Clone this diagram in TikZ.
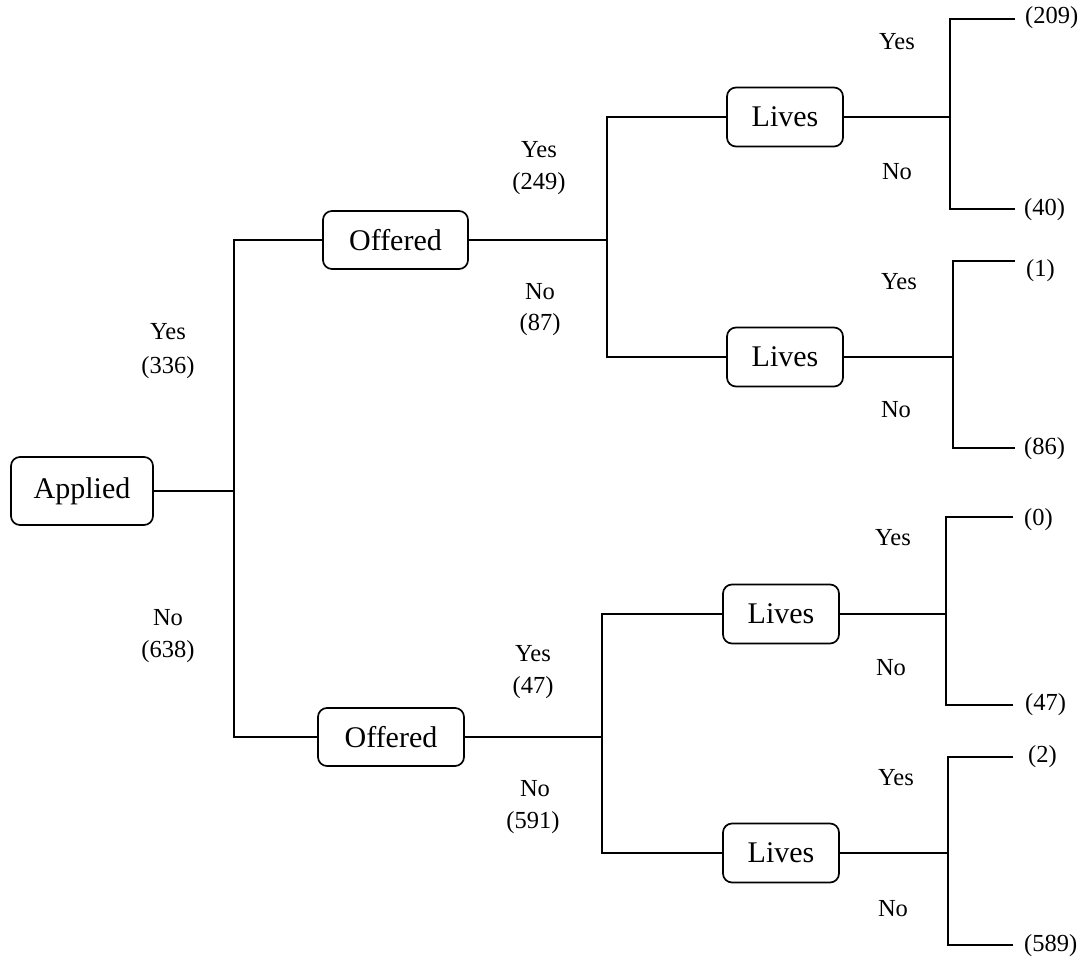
\documentclass[tikz,border=0pt]{standalone}
\usepackage{fontspec}
\setmainfont{Liberation Serif}
\begin{document}
\begin{tikzpicture}[x=1pt,y=-1pt,
  box/.style={draw,line width=1.7pt,rounded corners=9pt,font=\fontsize{30}{32}\selectfont,inner sep=0pt},
  lbl/.style={font=\fontsize{24.5}{26}\selectfont,inner sep=0pt},
  leaf/.style={font=\fontsize{24.5}{26}\selectfont,inner sep=0pt,anchor=west},
  wire/.style={line width=1.7pt}]
\useasboundingbox (0,0) rectangle (1083,957);
% boxes
\node[box,minimum width=142pt,minimum height=68pt] (app) at (82,491) {Applied};
\node[box,minimum width=145pt,minimum height=58pt] (off1) at (395.5,240) {Offered};
\node[box,minimum width=146pt,minimum height=58pt] (off2) at (391,737) {Offered};
\node[box,minimum width=116pt,minimum height=59pt] (l1) at (785,117) {Lives};
\node[box,minimum width=116pt,minimum height=59pt] (l2) at (785,357) {Lives};
\node[box,minimum width=116pt,minimum height=59pt] (l3) at (781,614) {Lives};
\node[box,minimum width=116pt,minimum height=59pt] (l4) at (781,853) {Lives};
% junctions
\coordinate (j0) at (234,491);
\coordinate (j1) at (607,240);
\coordinate (j2) at (602,737);
\coordinate (k1) at (950,117);
\coordinate (k2) at (953,357);
\coordinate (k3) at (946,614);
\coordinate (k4) at (948,853);
% leaf line ends
\coordinate (e1) at (1015,19);
\coordinate (e2) at (1015,209);
\coordinate (e3) at (1015,261);
\coordinate (e4) at (1015,448);
\coordinate (e5) at (1013,517);
\coordinate (e6) at (1013,705);
\coordinate (e7) at (1013,757);
\coordinate (e8) at (1013,945);
% wires
\draw[wire] (app.east) -- (j0);
\draw[wire] (off1.west) -| (j0) |- (off2.west);
\draw[wire] (off1.east) -- (j1);
\draw[wire] (l1.west) -| (j1) |- (l2.west);
\draw[wire] (off2.east) -- (j2);
\draw[wire] (l3.west) -| (j2) |- (l4.west);
\draw[wire] (l1.east) -- (k1);
\draw[wire] (e1) -| (k1) |- (e2);
\draw[wire] (l2.east) -- (k2);
\draw[wire] (e3) -| (k2) |- (e4);
\draw[wire] (l3.east) -- (k3);
\draw[wire] (e5) -| (k3) |- (e6);
\draw[wire] (l4.east) -- (k4);
\draw[wire] (e7) -| (k4) |- (e8);
% labels
\node[lbl] (a1) at (168,332) {Yes};
\node[lbl] (a2) at (168,368) {(336)};
\node[lbl] (a3) at (168,618) {No};
\node[lbl] (a4) at (168,652) {(638)};
\node[lbl] (b1) at (539,150) {Yes};
\node[lbl] (b2) at (539,184) {(249)};
\node[lbl] (b3) at (540,292) {No};
\node[lbl] (b4) at (540,325) {(87)};
\node[lbl] (c1) at (533,654) {Yes};
\node[lbl] (c2) at (533,688) {(47)};
\node[lbl] (c3) at (535,789) {No};
\node[lbl] (c4) at (533,823) {(591)};
\node[lbl] (d1) at (897,42) {Yes};
\node[lbl] (d2) at (897,172) {No};
\node[lbl] (d3) at (899,282) {Yes};
\node[lbl] (d4) at (896,410) {No};
\node[lbl] (d5) at (893,538) {Yes};
\node[lbl] (d6) at (891,668) {No};
\node[lbl] (d7) at (896,778) {Yes};
\node[lbl] (d8) at (893,909) {No};
% leaves
\node[leaf] (f1) at (1025,18) {(209)};
\node[leaf] (f2) at (1024,210) {(40)};
\node[leaf] (f3) at (1026,271) {(1)};
\node[leaf] (f4) at (1024,449) {(86)};
\node[leaf] (f5) at (1024,520) {(0)};
\node[leaf] (f6) at (1025,705) {(47)};
\node[leaf] (f7) at (1028,757) {(2)};
\node[leaf] (f8) at (1024,946) {(589)};
\end{tikzpicture}
\end{document}
